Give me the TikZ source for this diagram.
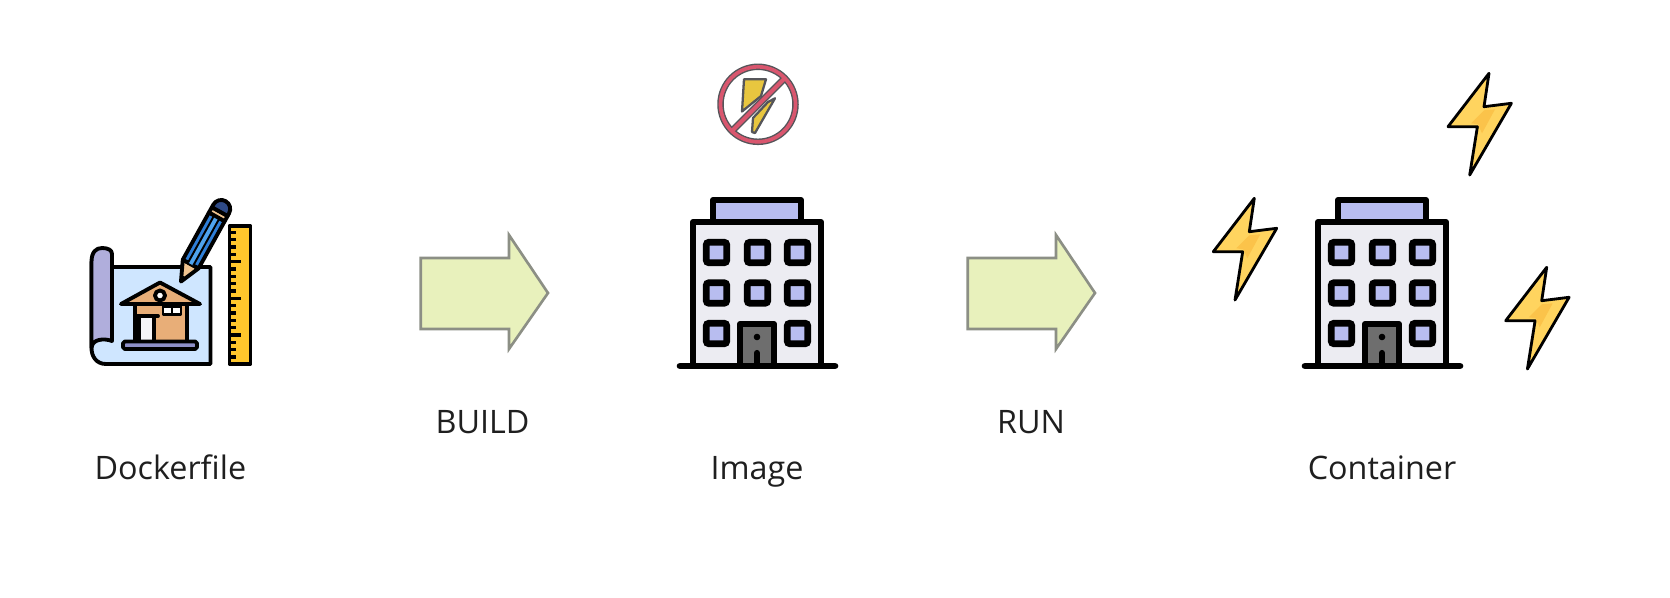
\documentclass[tikz,border=0pt]{standalone}
\usepackage{fontspec}
\setmainfont{Open Sans}
\definecolor{blockfill}{HTML}{E8F1BC}
\definecolor{blockline}{HTML}{8C8F85}
\definecolor{glassblue}{HTML}{B8BDF0}
\definecolor{wallgrey}{HTML}{ECECF2}
\definecolor{boltyellow}{HTML}{FFD45F}
\definecolor{boltdark}{HTML}{FBC34A}
\definecolor{rulergold}{HTML}{FFC72C}
\definecolor{paperblue}{HTML}{CFE6FF}
\definecolor{rolllilac}{HTML}{B0AEDC}
\definecolor{barlilac}{HTML}{8E8FC8}
\definecolor{woodtan}{HTML}{E8AE78}
\definecolor{tiptan}{HTML}{EFC38F}
\definecolor{pencilblue}{HTML}{2F7FD8}
\definecolor{pencilsky}{HTML}{4FA3EE}
\definecolor{eraserblue}{HTML}{2E4A86}
\definecolor{banpink}{HTML}{D9566E}
\definecolor{bangrey}{HTML}{55555A}
\definecolor{banyellow}{HTML}{E8C63F}
\tikzset{
	label/.style={font=\fontsize{18.4}{22}\selectfont, text=black!88, anchor=base},
	block/.style={draw=blockline, fill=blockfill, line width=1.5pt, line join=miter},
	ink/.style={draw=black, line width=2.2pt, line join=round},
	inkthick/.style={draw=black, line width=3.5pt, line join=round},
	building/.pic={
		\draw[inkthick, fill=glassblue] (713,222) -- (713,200) -- (801,200) -- (801,222);
		\draw[inkthick, fill=wallgrey] (693,366) -- (693,222) -- (821,222) -- (821,366);
		\foreach \wx/\wy in {716.5/252.5,757.5/252.5,797.5/252.5,716.5/293,757.5/293,797.5/293,716.5/333.5,797.5/333.5}
			\draw[draw=black, line width=3.9pt, fill=glassblue, rounded corners=1.5pt] (\wx-10.2,\wy-10.2) rectangle (\wx+10.2,\wy+10.2);
		\draw[inkthick, fill=black!57] (740,366) -- (740,324) -- (774,324) -- (774,366);
		\fill (757,337) circle (3.3);
		\draw[line width=3.5pt, line cap=round] (757,353) -- (757,366);
		\draw[line width=3.8pt, line cap=round] (680,366) -- (835,366);
	},
	bolt/.pic={
		\draw[draw=black, fill=boltyellow, line width=1.6pt, line join=round] (0,0) -- (-5,33.4) -- (22.4,30) -- (-19.3,101.7) -- (-11.6,53.4) -- (-41,53.4) -- cycle;
		\fill[boltdark] (-5,37) -- (6,36) -- (-7,60) -- (-11,51) -- (-18,50) -- cycle;
	},
}
\begin{document}
\begin{tikzpicture}[x=0.02cm, y=-0.02cm]
	\useasboundingbox (0,0) rectangle (1670,598);

	% Dockerfile: ruler
	\draw[ink, fill=rulergold] (229.5,226) rectangle (250.5,364);
	\foreach \k in {0,...,17}{
		\pgfmathsetmacro{\ticklen}{mod(\k+1,5)==0 ? 241 : 236}
		\draw[line width=1.9pt] (229.5,232.4+7.33*\k) -- (\ticklen,232.4+7.33*\k);
	}

	% Dockerfile: paper and roll
	\draw[ink, fill=paperblue] (112,267) -- (210.5,267) -- (210.5,364) -- (106,364) .. controls (96,364) and (91.5,356) .. (91.5,348) -- (91.5,262) -- cycle;
	\draw[ink, fill=rolllilac] (91.5,348) -- (91.5,262) .. controls (91.5,252) and (96,248) .. (102,248) .. controls (108,248) and (112,250) .. (112,254) -- (112,341) .. controls (104,338) and (92,339) .. (91.5,348) -- cycle;

	% Dockerfile: house
	\draw[ink, fill=woodtan] (135,304) -- (135,342) -- (187,342) -- (187,304);
	\draw[ink, fill=woodtan] (121,304) -- (160,282.5) -- (200,304) -- cycle;
	\draw[ink, fill=white] (160,295.5) circle (5);
	\draw[ink, fill=white, line width=1.7pt] (163,306.5) rectangle (181,314.5);
	\draw[line width=1.4pt] (172,306.5) -- (172,314.5);
	\draw[ink, fill=wallgrey!60!white] (139,342) -- (139,316) -- (154,316) -- (154,342);
	\draw[line width=2.2pt, line cap=round] (135,316) -- (158,316);
	\draw[ink, fill=barlilac, rounded corners=1pt] (123,341.5) rectangle (197,349);

	% Dockerfile: pencil
	\begin{scope}[shift={(180,283.3)}, rotate=61]
		\draw[ink, fill=tiptan] (22,9) -- (2,0) -- (22,-9) -- cycle;
		\fill (0,0) -- (8,-3.6) -- (8,3.6) -- cycle;
		\draw[ink, fill=pencilblue] (22,9) -- (76,9) -- (76,-9) -- (22,-9) -- cycle;
		\fill[pencilsky] (22,3) rectangle (76,-3);
		\draw[line width=1.1pt] (22,3) -- (76,3) (22,-3) -- (76,-3);
		\draw[ink, fill=tiptan] (76,9) rectangle (82,-9);
		\draw[ink, fill=eraserblue] (82,9) -- (85,9) arc (90:-90:9) -- (82,-9) -- cycle;
	\end{scope}

	% Building, twice
	\pic at (0,0) {building};
	\pic at (625,0) {building};

	% Banned bolt
	\draw[draw=bangrey, fill=banyellow, line width=1.3pt, line join=round] (744,79.3) -- (766,79.3) -- (761,96) -- (742,111.5) -- cycle;
	\draw[draw=bangrey, fill=banyellow, line width=1.3pt, line join=round] (775,98.3) -- (755,133) -- (752,132) -- (753,118) -- (768,102) -- cycle;
	\draw[draw=bangrey, line width=3.7pt] (758,104.3) circle (37.5);
	\draw[draw=bangrey, line width=4pt] (733,130) -- (785,78);
	\draw[draw=banpink, line width=2.1pt] (758,104.3) circle (37.5);
	\draw[draw=banpink, line width=2.4pt] (733,130) -- (785,78);

	% Lightning around the container
	\pic at (1254.3,198.3) {bolt};
	\pic at (1489,73.3) {bolt};
	\pic at (1546.7,267.3) {bolt};

	% Block arrows
	\draw[block] (420.7,258) -- (509,258) -- (509,235) -- (548,293) -- (509,349) -- (509,329) -- (420.7,329) -- cycle;
	\draw[block, xshift=547*0.02cm] (420.7,258) -- (509,258) -- (509,235) -- (548,293) -- (509,349) -- (509,329) -- (420.7,329) -- cycle;

	% Labels
	\node[label] (dockerfile) at (170.4,479) {Dockerfile};
	\node[label] (image) at (757,479) {Image};
	\node[label] (container) at (1382,479) {Container};
	\node[label] (build) at (482.5,433.5) {BUILD};
	\node[label] (run) at (1031,433.5) {RUN};
\end{tikzpicture}
\end{document}
